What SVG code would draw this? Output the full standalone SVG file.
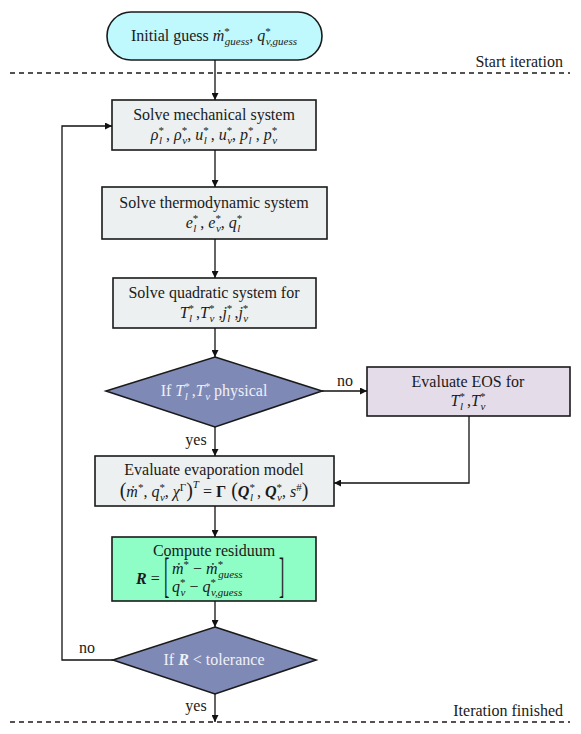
<svg xmlns="http://www.w3.org/2000/svg" width="581" height="734" viewBox="0 0 581 734" font-family="'Liberation Serif', 'DejaVu Serif', 'Times New Roman', serif">
<defs>
<marker id="ah" viewBox="0 0 10 10" refX="10" refY="5" markerWidth="7" markerHeight="7" markerUnits="userSpaceOnUse" orient="auto"><path d="M0,0 L10,5 L0,10 z" fill="#111"/></marker>
<style>
text{font-family:'Liberation Serif','DejaVu Serif','Times New Roman',serif}
.t{font-size:16px;fill:#1a1a1a}
.w{fill:#eef0f8}
.i{font-style:italic}
.b{font-weight:bold}
.s{font-size:11px}
.box{stroke:#1a1a1a;stroke-width:1.6}
.grey{fill:#ecf0f0}
.dash{stroke:#1a1a1a;stroke-width:1.3;stroke-dasharray:5,4;fill:none}
.c{stroke:#111;stroke-width:1.3;fill:none}
</style>
</defs>
<rect width="581" height="734" fill="#fff"/>

<line class="dash" x1="10" y1="73" x2="570" y2="73"/>
<text class="t" x="563" y="67" text-anchor="end">Start iteration</text>
<line class="dash" x1="10" y1="722" x2="570" y2="722"/>
<text class="t" x="563" y="716" text-anchor="end">Iteration finished</text>

<g id="start">
<rect class="box" x="107" y="12" width="215" height="48" rx="24" fill="#bff8fd"/>
<text class="t" x="214" y="41" text-anchor="middle">Initial guess <tspan class="i">ṁ</tspan><tspan class="s" dy="-6">*</tspan><tspan class="s i" dx="-5" dy="10">guess</tspan><tspan dy="-4">, </tspan><tspan class="i">q</tspan><tspan class="s" dy="-6">*</tspan><tspan class="s i" dx="-5" dy="10">v,guess</tspan></text>
</g>

<g id="mech">
<rect class="box grey" x="112" y="100" width="204" height="50"/>
<text class="t" x="214" y="120" text-anchor="middle">Solve mechanical system</text>
<text class="t" x="214" y="140" text-anchor="middle"><tspan class="i">ρ</tspan><tspan class="s" dy="-6">*</tspan><tspan class="s i" dx="-5" dy="10">l</tspan><tspan dy="-4"> , </tspan><tspan class="i">ρ</tspan><tspan class="s" dy="-6">*</tspan><tspan class="s i" dx="-5" dy="10">v</tspan><tspan dy="-4">, </tspan><tspan class="i">u</tspan><tspan class="s" dy="-6">*</tspan><tspan class="s i" dx="-5" dy="10">l</tspan><tspan dy="-4"> , </tspan><tspan class="i">u</tspan><tspan class="s" dy="-6">*</tspan><tspan class="s i" dx="-5" dy="10">v</tspan><tspan dy="-4">, </tspan><tspan class="i">p</tspan><tspan class="s" dy="-6">*</tspan><tspan class="s i" dx="-5" dy="10">l</tspan><tspan dy="-4"> , </tspan><tspan class="i">p</tspan><tspan class="s" dy="-6">*</tspan><tspan class="s i" dx="-5" dy="10">v</tspan></text>
</g>

<g id="thermo">
<rect class="box grey" x="102" y="187" width="225" height="52"/>
<text class="t" x="214" y="208" text-anchor="middle">Solve thermodynamic system</text>
<text class="t" x="214" y="228" text-anchor="middle"><tspan class="i">e</tspan><tspan class="s" dy="-6">*</tspan><tspan class="s i" dx="-5" dy="10">l</tspan><tspan dy="-4"> , </tspan><tspan class="i">e</tspan><tspan class="s" dy="-6">*</tspan><tspan class="s i" dx="-5" dy="10">v</tspan><tspan dy="-4">, </tspan><tspan class="i">q</tspan><tspan class="s" dy="-6">*</tspan><tspan class="s i" dx="-5" dy="10">l</tspan></text>
</g>

<g id="quad">
<rect class="box grey" x="113" y="278" width="203" height="50"/>
<text class="t" x="214" y="298" text-anchor="middle">Solve quadratic system for</text>
<text class="t" x="214" y="318" text-anchor="middle"><tspan class="i">T</tspan><tspan class="s" dy="-6">*</tspan><tspan class="s i" dx="-5" dy="10">l</tspan><tspan dy="-4"> ,</tspan><tspan class="i">T</tspan><tspan class="s" dy="-6">*</tspan><tspan class="s i" dx="-5" dy="10">v</tspan><tspan dy="-4"> ,</tspan><tspan class="i">j</tspan><tspan class="s" dy="-6">*</tspan><tspan class="s i" dx="-5" dy="10">l</tspan><tspan dy="-4"> ,</tspan><tspan class="i">j</tspan><tspan class="s" dy="-6">*</tspan><tspan class="s i" dx="-5" dy="10">v</tspan></text>
</g>

<g id="phys">
<polygon class="box" points="215,357 322,391 215,427 106,391" fill="#7f89b5"/>
<text class="t w" x="214" y="396" text-anchor="middle">If <tspan class="i">T</tspan><tspan class="s" dy="-6">*</tspan><tspan class="s i" dx="-5" dy="10">l</tspan><tspan dy="-4"> ,</tspan><tspan class="i">T</tspan><tspan class="s" dy="-6">*</tspan><tspan class="s i" dx="-5" dy="10">v</tspan><tspan dy="-4">  physical</tspan></text>
</g>

<g id="eos">
<rect class="box" x="367" y="367" width="203" height="49" fill="#e5dcea"/>
<text class="t" x="468" y="387" text-anchor="middle">Evaluate EOS for</text>
<text class="t" x="468" y="406" text-anchor="middle"><tspan class="i">T</tspan><tspan class="s" dy="-6">*</tspan><tspan class="s i" dx="-5" dy="10">l</tspan><tspan dy="-4"> ,</tspan><tspan class="i">T</tspan><tspan class="s" dy="-6">*</tspan><tspan class="s i" dx="-5" dy="10">v</tspan></text>
</g>

<g id="evap">
<rect class="box grey" x="95" y="456" width="239" height="50"/>
<text class="t" x="214" y="475" text-anchor="middle">Evaluate evaporation model</text>
<text class="t" x="214" y="497" text-anchor="middle"><tspan font-size="20">(</tspan><tspan class="i">ṁ</tspan><tspan class="s" dy="-6">*</tspan><tspan dy="6">, </tspan><tspan class="i">q</tspan><tspan class="s" dy="-6">*</tspan><tspan class="s i" dx="-5" dy="10">v</tspan><tspan dy="-4">, </tspan><tspan class="i">χ</tspan><tspan class="s" dy="-6">Γ</tspan><tspan font-size="20" dy="6">)</tspan><tspan class="s i" dy="-9">T</tspan><tspan dy="9"> = </tspan><tspan class="b">Γ</tspan><tspan font-size="20"> (</tspan><tspan class="b i">Q</tspan><tspan class="s" dy="-6">*</tspan><tspan class="s i" dx="-5" dy="10">l</tspan><tspan dy="-4"> , </tspan><tspan class="b i">Q</tspan><tspan class="s" dy="-6">*</tspan><tspan class="s i" dx="-5" dy="10">v</tspan><tspan dy="-4">, </tspan><tspan class="i">s</tspan><tspan class="s" dy="-6">#</tspan><tspan font-size="20" dy="6">)</tspan></text>
</g>

<g id="resid">
<rect class="box" x="112" y="537" width="204" height="64" fill="#8ffdc6"/>
<text class="t" x="214" y="556" text-anchor="middle">Compute residuum</text>
<text class="t" x="136" y="584"><tspan class="b i">R</tspan><tspan> =</tspan></text>
<text class="t" x="0" y="0" transform="translate(164,591) scale(1,3)">[</text>
<text class="t" x="0" y="0" transform="translate(279,591) scale(1,3)">]</text>
<text class="t" x="172" y="574"><tspan class="i">ṁ</tspan><tspan class="s" dy="-6">*</tspan><tspan dy="6"> − </tspan><tspan class="i">ṁ</tspan><tspan class="s" dy="-6">*</tspan><tspan class="s i" dx="-5" dy="10">guess</tspan></text>
<text class="t" x="172" y="592"><tspan class="i">q</tspan><tspan class="s" dy="-6">*</tspan><tspan class="s i" dx="-5" dy="10">v</tspan><tspan dy="-4"> − </tspan><tspan class="i">q</tspan><tspan class="s" dy="-6">*</tspan><tspan class="s i" dx="-5" dy="10">v,guess</tspan></text>
</g>

<g id="tol">
<polygon class="box" points="215,627 316,660 215,694 113,660" fill="#7f89b5"/>
<text class="t w" x="214" y="665" text-anchor="middle">If <tspan class="b i">R</tspan> &lt; tolerance</text>
</g>

<g id="connectors">
<line class="c" x1="215" y1="60" x2="215" y2="100" marker-end="url(#ah)"/>
<line class="c" x1="215" y1="150" x2="215" y2="187" marker-end="url(#ah)"/>
<line class="c" x1="215" y1="239" x2="215" y2="278" marker-end="url(#ah)"/>
<line class="c" x1="215" y1="328" x2="215" y2="357" marker-end="url(#ah)"/>
<line class="c" x1="322" y1="391" x2="367" y2="391" marker-end="url(#ah)"/>
<line class="c" x1="215" y1="427" x2="215" y2="456" marker-end="url(#ah)"/>
<polyline class="c" points="469,416 469,483 334,483" marker-end="url(#ah)"/>
<line class="c" x1="215" y1="506" x2="215" y2="537" marker-end="url(#ah)"/>
<line class="c" x1="215" y1="601" x2="215" y2="627" marker-end="url(#ah)"/>
<polyline class="c" points="113,660 62,660 62,126 112,126" marker-end="url(#ah)"/>
<line class="c" x1="215" y1="694" x2="215" y2="722" marker-end="url(#ah)"/>
<text class="t" x="345" y="386" text-anchor="middle">no</text>
<text class="t" x="196" y="445" text-anchor="middle">yes</text>
<text class="t" x="87" y="653" text-anchor="middle">no</text>
<text class="t" x="196" y="711" text-anchor="middle">yes</text>
</g>
</svg>
